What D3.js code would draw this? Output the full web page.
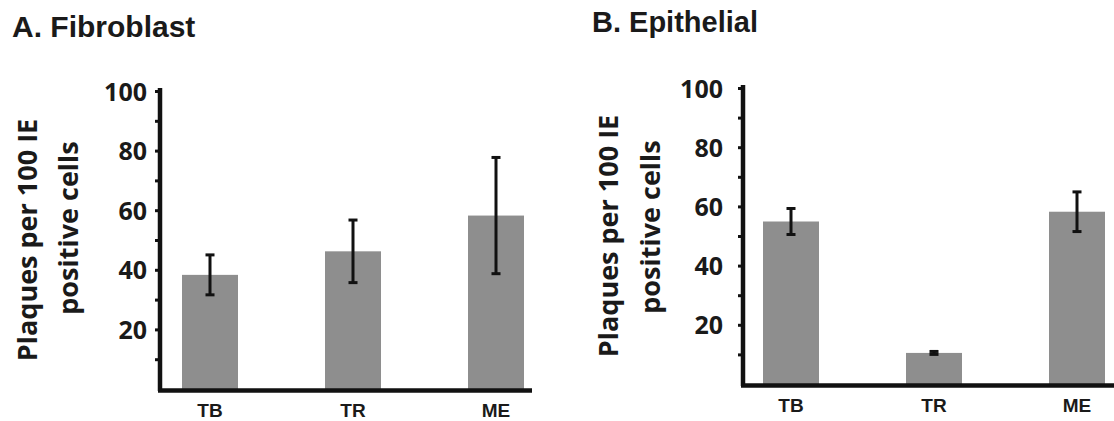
<!DOCTYPE html>
<html>
<head>
<meta charset="utf-8">
<script src="https://cdn.jsdelivr.net/npm/d3@7"></script>
<style>
  body { margin: 0; background: #fff; }
  .title { font-family: "Liberation Sans", Arial, sans-serif; font-weight: bold; fill: #1a1a1a; }
  .ylab { font-family: "Open Sans", sans-serif; font-weight: bold; fill: #1a1a1a; }
  .tick text { font-family: "Open Sans", sans-serif; font-weight: bold; fill: #1a1a1a; }
  .xlab { font-family: "Liberation Sans", Arial, sans-serif; font-weight: bold; fill: #1a1a1a; }
</style>
</head>
<body>
<div id="chart"></div>
<script>
const categories = ["TB", "TR", "ME"];
const fibroMeans = [38.3, 46.2, 58.2];
const fibroErr = [6.7, 10.5, 19.5];
const epiMeans = [54.9, 10.5, 58.2];
const epiErr = [4.4, 0.5, 6.7];
const majorTicks = [20, 40, 60, 80, 100];
const minorTicks = [10, 30, 50, 70, 90];
const yTitle = ["Plaques per 100 IE", "positive cells"];

const W = 1114, H = 421;
const barColor = "#8e8e8e";

const svg = d3.select("#chart").append("svg")
    .attr("width", W)
    .attr("height", H);

// layout for each panel
const panels = [
    {
        title: "A. Fibroblast", titleX: 12, titleY: 37, titleSize: 30,
        means: fibroMeans, err: fibroErr,
        axisX: 160, xEnd: 532, yTop: 91, yBottom: 389,
        xRange: [210, 496], barW: 56, pad: 8,
        yt: [{ x: 37, cy: 240 }, { x: 78, cy: 228 }], xlabY: 417
    },
    {
        title: "B. Epithelial", titleX: 592, titleY: 32, titleSize: 29,
        means: epiMeans, err: epiErr,
        axisX: 743, xEnd: 1114, yTop: 88, yBottom: 384,
        xRange: [791, 1077], barW: 56, pad: 15,
        yt: [{ x: 618, cy: 236 }, { x: 660, cy: 227 }], xlabY: 412
    }
];

panels.forEach(p => {
    const data = categories.map((c, i) => ({ cat: c, mean: p.means[i], err: p.err[i] }));

    const x = d3.scalePoint()
        .domain(categories)
        .range(p.xRange);

    const y = d3.scaleLinear()
        .domain([0, 100])
        .range([p.yBottom, p.yTop]);

    const g = svg.append("g");

    // panel title
    g.append("text")
        .attr("class", "title")
        .attr("x", p.titleX)
        .attr("y", p.titleY)
        .style("font-size", p.titleSize + "px")
        .text(p.title);

    // y axis title, two lines
    yTitle.forEach((t, i) => {
        g.append("text")
            .attr("class", "ylab")
            .attr("transform", `translate(${p.yt[i].x},${p.yt[i].cy}) rotate(-90)`)
            .attr("text-anchor", "middle")
            .style("font-size", "27px")
            .text(t);
    });

    // bars
    g.selectAll(".bar")
        .data(data)
        .join("rect")
        .attr("class", "bar")
        .attr("x", d => x(d.cat) - p.barW / 2)
        .attr("y", d => y(d.mean))
        .attr("width", p.barW)
        .attr("height", d => y(0) - y(d.mean))
        .attr("fill", barColor);

    // error bars
    const eb = g.selectAll(".err")
        .data(data)
        .join("g")
        .attr("class", "err")
        .attr("stroke", "#111")
        .attr("stroke-width", 3);

    eb.append("line")
        .attr("x1", d => x(d.cat)).attr("x2", d => x(d.cat))
        .attr("y1", d => y(d.mean + d.err)).attr("y2", d => y(d.mean - d.err));
    eb.append("line")
        .attr("x1", d => x(d.cat) - 4.5).attr("x2", d => x(d.cat) + 4.5)
        .attr("y1", d => y(d.mean + d.err)).attr("y2", d => y(d.mean + d.err));
    eb.append("line")
        .attr("x1", d => x(d.cat) - 4.5).attr("x2", d => x(d.cat) + 4.5)
        .attr("y1", d => y(d.mean - d.err)).attr("y2", d => y(d.mean - d.err));

    // minor ticks
    g.append("g")
        .attr("transform", `translate(${p.axisX},0)`)
        .call(d3.axisLeft(y).tickValues(minorTicks).tickSize(5).tickFormat(""))
        .call(a => a.select(".domain").remove())
        .call(a => a.selectAll(".tick line").attr("stroke", "#111").attr("stroke-width", 3));

    // major ticks + labels
    g.append("g")
        .attr("transform", `translate(${p.axisX},0)`)
        .call(d3.axisLeft(y).tickValues(majorTicks).tickSize(5).tickPadding(p.pad).tickSizeOuter(0))
        .call(a => a.select(".domain").attr("stroke", "#111").attr("stroke-width", 4.5)
            .attr("d", `M0,${p.yTop - 3}V${p.yBottom + 2}`))
        .call(a => a.selectAll(".tick line").attr("stroke", "#111").attr("stroke-width", 3))
        .call(a => a.selectAll(".tick text").style("font-size", "25px").attr("dy", "0.36em"));

    // x axis line
    g.append("line")
        .attr("x1", p.axisX - 2)
        .attr("x2", p.xEnd)
        .attr("y1", y(0) + 1.5)
        .attr("y2", y(0) + 1.5)
        .attr("stroke", "#111")
        .attr("stroke-width", 4.5);

    // category labels
    g.selectAll(".xlab")
        .data(categories)
        .join("text")
        .attr("class", "xlab")
        .attr("x", d => x(d))
        .attr("y", p.xlabY)
        .attr("text-anchor", "middle")
        .style("font-size", "19px")
        .text(d => d);
});
</script>
</body>
</html>
